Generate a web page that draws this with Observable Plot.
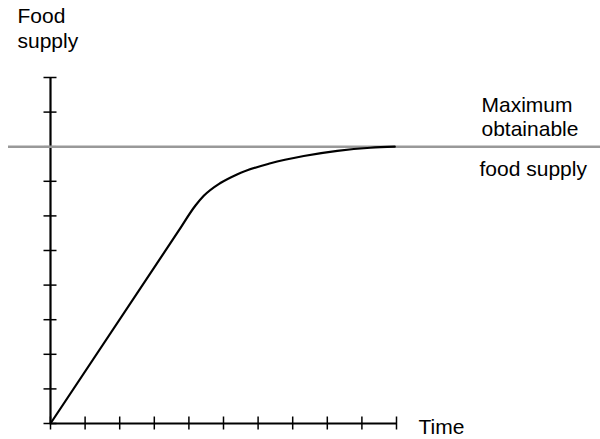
<!DOCTYPE html>
<html>
<head>
<meta charset="utf-8">
<script src="https://cdn.jsdelivr.net/npm/d3@7"></script>
<script src="https://cdn.jsdelivr.net/npm/@observablehq/plot@0.6"></script>
<style>
  html, body { margin: 0; padding: 0; background: #fff; }
  svg { display: block; }
</style>
</head>
<body>
<div id="chart"></div>
<script>
// Data
const timeVals   = [0, 3.71, 4.19, 4.43, 4.91, 5.39, 6.36, 7.32, 8.29, 9.25, 9.95];
const supplyVals = [0, 5.58, 6.30, 6.58, 6.95, 7.20, 7.52, 7.73, 7.88, 7.97, 8.0];
const maxSupply = 8;
const xTicks = [0, 1, 2, 3, 4, 5, 6, 7, 8, 9, 10];
const yTicks = [0, 1, 2, 3, 4, 5, 6, 7, 8, 9, 10];
const xLabel = "Time";
const yLabel = "Food\nsupply";
const maxLabelTop = "Maximum\nobtainable";
const maxLabelBottom = "food supply";

const curve = timeVals.map((t, i) => ({time: t, supply: supplyVals[i]}));
const xMax = xTicks[xTicks.length - 1];
const yMax = yTicks[yTicks.length - 1];

const chart = Plot.plot({
  width: 600,
  height: 439,
  marginLeft: 8,
  marginRight: 0,
  marginTop: 0,
  marginBottom: 0,
  x: {domain: [0, xMax], range: [50, 396], axis: null},
  y: {domain: [0, yMax], range: [423, 77], axis: null},
  style: {fontFamily: "'Liberation Sans', Arial, Helvetica, sans-serif", background: "#fff", overflow: "visible"},
  marks: [
    // axes
    Plot.ruleY([0], {x1: 0, x2: xMax, stroke: "#000", strokeWidth: 2.2}),
    Plot.ruleX([0], {y1: 0, y2: yMax, stroke: "#000", strokeWidth: 2.2}),
    // crossing ticks
    Plot.ruleX(xTicks, {x: d => d, y1: 0, y2: 0, insetTop: -6.5, insetBottom: -6.5, stroke: "#000", strokeWidth: 1.5}),
    Plot.ruleY(yTicks, {y: d => d, x1: 0, x2: 0, insetLeft: -6.5, insetRight: -6.5, stroke: "#000", strokeWidth: 1.5}),
    // maximum obtainable food supply line (spans the frame, drawn over the axis)
    Plot.ruleY([maxSupply], {stroke: "#999", strokeWidth: 2.5}),
    // curve
    Plot.line(curve, {x: "time", y: "supply", curve: "monotone-x", stroke: "#000", strokeWidth: 2.2}),
    // labels
    Plot.text([xLabel], {x: xMax, y: 0, text: d => d, textAnchor: "start", lineAnchor: "bottom", dx: 22, dy: 10, fontSize: 21, fill: "#000"}),
    Plot.text([yLabel], {x: 0, y: yMax, text: d => d, textAnchor: "start", lineAnchor: "bottom", lineHeight: 1.15, dx: -33, dy: -30, fontSize: 21, fill: "#000"}),
    Plot.text([maxLabelTop], {x: xMax, y: maxSupply, text: d => d, textAnchor: "start", lineAnchor: "bottom", lineHeight: 1.15, dx: 85, dy: -11, fontSize: 21, fill: "#000"}),
    Plot.text([maxLabelBottom], {x: xMax, y: maxSupply, text: d => d, textAnchor: "start", lineAnchor: "bottom", dx: 83, dy: 29, fontSize: 21, fill: "#000"})
  ]
});
document.getElementById("chart").appendChild(chart);
</script>
</body>
</html>
